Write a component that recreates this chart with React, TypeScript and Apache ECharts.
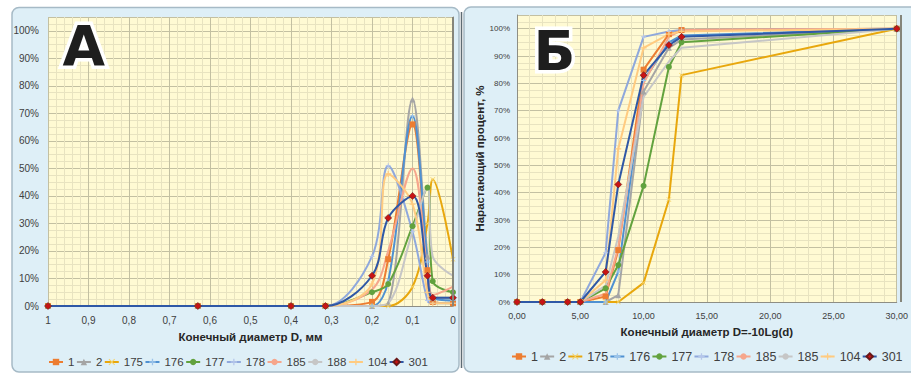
import React, { useEffect, useRef } from 'react';
import * as echarts from 'echarts';

// ---------- data ----------
const xA = [1, 0.63, 0.4, 0.315, 0.2, 0.16, 0.1, 0.063, 0.05, 0];
const xB = [0, 2, 4, 5, 7, 8, 10, 12, 13, 30];

const namesA = ['1', '2', '175', '176', '177', '178', '185', '188', '104', '301'];
const namesB = ['1', '2', '175', '176', '177', '178', '185', '185b', '104', '301'];

// Panel A: fraction per sieve, %
const A_1 = [0, 0, 0, 0, 1.5, 17, 66, 13, 1.5, 1];
const A_2 = [0, 0, 0, 0, 0, 1, 75, 18, 3, 3];
const A_175 = [0, 0, 0, 0, 0, 0, 7, 30, 46, 17];
const A_176 = [0, 0, 0, 0, 0, 9, 69, 16, 3, 2];
const A_177 = [0, 0, 0, 0, 5, 8, 29, 43, 9, 5];
const A_178 = [0, 0, 0, 0, 18, 51, 27, 2, 1, 1];
const A_185 = [0, 0, 0, 0, 6, 20, 50, 13, 4, 7];
const A_188 = [0, 0, 0, 0, 0, 1, 27, 43, 18, 11];
const A_104 = [0, 0, 0, 0, 8, 48, 37, 5, 1, 1];
const A_301 = [0, 0, 0, 0, 11, 32, 40, 11, 3, 3];

// Panel B: cumulative percent, %
const B_1 = [0, 0, 0, 0, 2, 19, 85, 98, 99.5, 100];
const B_2 = [0, 0, 0, 0, 0, 2.5, 77, 93, 96, 100];
const B_175 = [0, 0, 0, 0, 0, 0, 7, 37.5, 83, 100];
const B_176 = [0, 0, 0, 0, 0, 11, 81, 95, 97.5, 100];
const B_177 = [0, 0, 0, 0, 5, 13.5, 42.5, 86, 95, 100];
const B_178 = [0, 0, 0, 0, 18, 70, 97, 99, 99.5, 100];
const B_185 = [0, 0, 0, 0, 3, 20, 80, 97, 99.5, 100];
const B_185b = [0, 0, 0, 0, 6, 24, 75, 88, 93, 100];
const B_104 = [0, 0, 0, 0, 8, 56, 93, 98, 99, 100];
const B_301 = [0, 0, 0, 0, 11, 43, 83, 94, 97, 100];

const dataA = [A_1, A_2, A_175, A_176, A_177, A_178, A_185, A_188, A_104, A_301];
const dataB = [B_1, B_2, B_175, B_176, B_177, B_178, B_185, B_185b, B_104, B_301];

// ---------- styles ----------
const plusPath = 'path://M4,0H6V4H10V6H6V10H4V6H0V4H4Z';
const xPath = 'path://M1,0L5,4L9,0L10,1L6,5L10,9L9,10L5,6L1,10L0,9L4,5L0,1Z';

const STY = [
  { line: '#ED7D31', marker: '#ED7D31', symbol: 'rect', size: 6 },
  { line: '#A5A5A5', marker: '#A5A5A5', symbol: 'triangle', size: 6 },
  { line: '#E8A70C', marker: '#F5D36A', symbol: xPath, size: 5 },
  { line: '#4F91D2', marker: '#9CC4EA', symbol: plusPath, size: 5 },
  { line: '#62A23E', marker: '#62A23E', symbol: 'circle', size: 6 },
  { line: '#8FA8DC', marker: '#B5C6EA', symbol: plusPath, size: 5 },
  { line: '#F6A68C', marker: '#F6A68C', symbol: 'none', size: 0 },
  { line: '#C6C6C6', marker: '#C6C6C6', symbol: 'none', size: 0 },
  { line: '#FFCB80', marker: '#FFCB80', symbol: plusPath, size: 6 },
  { line: '#2F58A6', marker: '#C81414', symbol: 'diamond', size: 7 },
];

const pctFmt = (v: number) => (v > 100.5 ? '' : Math.round(v) + '%');
const fmtA = (v: number) => String(Number(v.toFixed(2))).replace('.', ',');
const fmtB = (v: number) => v.toFixed(2).replace('.', ',');

const MAJOR = '#C3C0A2';
const MINOR = '#E8E3C0';
const AXIS = '#8E8E84';
const LABEL = '#404040';
const FONT = 'Liberation Sans';

function buildSeries(names: string[], data: number[][], xs: number[], idx: number, smooth: number | false) {
  return names.map((n, i) => ({
    type: 'line',
    name: n,
    xAxisIndex: idx,
    yAxisIndex: idx,
    data: xs.map((x, j) => [x, data[i][j]]),
    smooth,
    symbol: STY[i].symbol,
    symbolSize: STY[i].size,
    lineStyle: { color: STY[i].line, width: 2 },
    itemStyle: {
      color: STY[i].marker,
      borderColor: i === 9 ? '#6A1818' : STY[i].marker,
      borderWidth: i === 9 ? 0.6 : 0,
    },
    emphasis: { disabled: true },
  }));
}

export default function App() {
  const ref = useRef<HTMLDivElement>(null);
  useEffect(() => {
    if (!ref.current) return;
    const chart = echarts.init(ref.current, undefined, { renderer: 'svg' });
    const valueAxisCommon = {
      type: 'value',
      axisTick: { show: false },
      splitLine: { show: true, lineStyle: { color: MAJOR, width: 1 } },
      minorSplitLine: { show: true, lineStyle: { color: MINOR, width: 1 } },
      axisLine: { show: true, lineStyle: { color: AXIS, width: 1 } },
    };
    const letter = (t: string, left: number, top: number) => ({
      type: 'text', z: 20, silent: true, left, top,
      style: {
        text: t, fontSize: 55, fontWeight: 'bold', fontFamily: 'DejaVu Sans',
        fill: '#1E1E1E', stroke: '#ffffff', lineWidth: 7, strokeFirst: true,
      },
    });
    const option: any = {
      animation: false,
      textStyle: { fontFamily: FONT },
      graphic: [
        {
          type: 'rect', z: -10, silent: true,
          shape: { x: 12, y: 7.5, width: 447, height: 364.5, r: 7 },
          style: { fill: '#DEEFF7', stroke: '#A6BAC6', lineWidth: 1.5 },
        },
        {
          type: 'rect', z: -10, silent: true,
          shape: { x: 464, y: 7, width: 470, height: 365, r: 7 },
          style: { fill: '#DEEFF7', stroke: '#A6BAC6', lineWidth: 1.5 },
        },
        {
          type: 'line', z: -9, silent: true,
          shape: { x1: 461.5, y1: 12, x2: 461.5, y2: 368 },
          style: { stroke: '#5E6B73', lineWidth: 1.5 },
        },
        {
          type: 'rect', z: 5, silent: true,
          shape: { x: 452, y: 17, width: 2, height: 289 },
          style: { fill: '#85857A' },
        },
        {
          type: 'rect', z: 5, silent: true,
          shape: { x: 900, y: 15, width: 2, height: 287 },
          style: { fill: '#85857A' },
        },
        letter('А', 59, 15),
        letter('Б', 530, 20),
      ],
      grid: [
        { left: 48, right: 458, top: 17, bottom: 68, show: true, backgroundColor: '#FFFAD3', borderWidth: 0 },
        { left: 517, right: 10, top: 15, bottom: 72, show: true, backgroundColor: '#FFFAD3', borderWidth: 0 },
      ],
      xAxis: [
        {
          ...valueAxisCommon,
          gridIndex: 0, min: 0, max: 1, interval: 0.1, inverse: true,
          minorTick: { show: false, splitNumber: 5 },
          axisLabel: { formatter: fmtA, color: LABEL, fontSize: 10, margin: 9 },
          name: 'Конечный диаметр D, мм', nameLocation: 'middle', nameGap: 25,
          nameTextStyle: { fontWeight: 'bold', fontSize: 11.5, color: '#262626' },
        },
        {
          ...valueAxisCommon,
          gridIndex: 1, min: 0, max: 30, interval: 5,
          minorTick: { show: false, splitNumber: 5 },
          axisLabel: { formatter: fmtB, color: LABEL, fontSize: 9, margin: 9 },
          name: 'Конечный диаметр D=-10Lg(d)', nameLocation: 'middle', nameGap: 24,
          nameTextStyle: { fontWeight: 'bold', fontSize: 11.5, color: '#262626' },
        },
      ],
      yAxis: [
        {
          ...valueAxisCommon,
          gridIndex: 0, min: 0, max: 105, interval: 10,
          minorTick: { show: false, splitNumber: 4 },
          axisLabel: { formatter: pctFmt, color: LABEL, fontSize: 10, margin: 9 },
        },
        {
          ...valueAxisCommon,
          gridIndex: 1, min: 0, max: 105, interval: 10,
          minorTick: { show: false, splitNumber: 4 },
          axisLabel: { formatter: pctFmt, color: LABEL, fontSize: 8, margin: 7 },
          name: 'Нарастающий процент, %', nameLocation: 'middle', nameGap: 28,
          nameTextStyle: { fontWeight: 'bold', fontSize: 11.5, color: '#262626' },
        },
      ],
      legend: [
        {
          data: namesA, left: 48, top: 356, padding: 0, itemWidth: 14, itemHeight: 8, itemGap: 1.5,
          textStyle: { fontSize: 11.5, color: LABEL }, selectedMode: false,
        },
        {
          data: namesB, left: 511, top: 350, width: 440, padding: 0, itemWidth: 14, itemHeight: 8, itemGap: 1.2,
          textStyle: { fontSize: 12.5, color: LABEL }, selectedMode: false,
          formatter: (n: string) => (n === '185b' ? '185' : n),
        },
      ],
      series: [
        ...buildSeries(namesA, dataA, xA, 0, 0.35),
        ...buildSeries(namesB, dataB, xB, 1, false),
      ],
    };
    chart.setOption(option);
    return () => chart.dispose();
  }, []);
  return (
    <div style={{ position: 'absolute', left: 0, top: 0, width: 911, height: 374, background: '#fff' }}>
      <div ref={ref} style={{ width: 911, height: 374 }} />
    </div>
  );
}
